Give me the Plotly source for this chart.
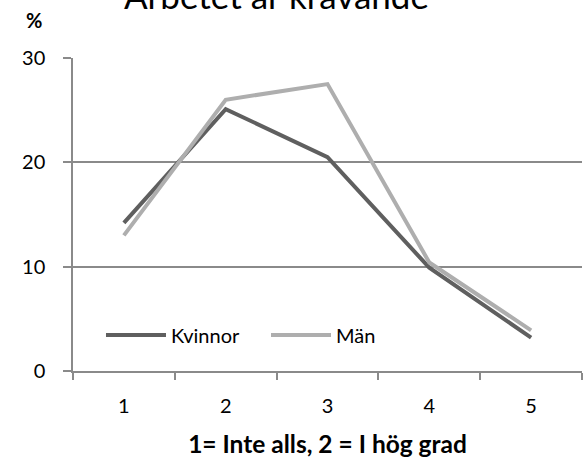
import plotly.graph_objects as go

categories = ["1", "2", "3", "4", "5"]
kvinnor = [14.2, 25.1, 20.5, 9.9, 3.2]
man = [13.0, 26.0, 27.5, 10.4, 3.9]
y_ticks = [0, 10, 20, 30]

FONT = "Lato"
GRID = "#8a8a8a"

fig = go.Figure()
fig.add_trace(go.Scatter(x=categories, y=kvinnor, mode="lines", name="Kvinnor",
                         line=dict(color="#5f5f5f", width=4)))
fig.add_trace(go.Scatter(x=categories, y=man, mode="lines", name="Män",
                         line=dict(color="#aeaeae", width=4)))

fig.update_layout(
    width=583, height=461,
    margin=dict(l=73, r=1, t=58, b=90),
    paper_bgcolor="white", plot_bgcolor="white",
    font=dict(family=FONT, size=20, color="#000000"),
    showlegend=True,
    legend=dict(orientation="h", x=0.055, y=0.115, xanchor="left", yanchor="middle",
                bgcolor="rgba(0,0,0,0)", font=dict(size=20, family=FONT),
                itemwidth=60, entrywidth=90, entrywidthmode="pixels"),
    annotations=[
        dict(text="Arbetet är krävande", xref="paper", yref="paper", x=0.40, y=1.20,
             xanchor="center", yanchor="middle", showarrow=False,
             font=dict(size=35, family=FONT, color="#000000")),
        dict(text="<b>%</b>", xref="paper", yref="paper", x=-0.077, y=1.121,
             xanchor="center", yanchor="middle", showarrow=False,
             font=dict(size=20, family=FONT, color="#000000")),
    ],
)
fig.update_xaxes(type="category", range=[-0.5, 4.5], tickson="boundaries", ticks="outside",
                 ticklen=7, tickcolor=GRID, tickwidth=1.5, showline=True, linecolor=GRID,
                 linewidth=1.5, showgrid=False, tickfont=dict(size=20, family=FONT),
                 ticklabelstandoff=16,
                 title=dict(text="<b>1= Inte alls, 2 = I hög grad</b>",
                            font=dict(size=24.5, family=FONT), standoff=20))
fig.update_yaxes(range=[0, 30], tickvals=y_ticks, ticks="outside", ticklen=8,
                 tickcolor=GRID, tickwidth=1.5, showline=True, linecolor=GRID, linewidth=1.5,
                 showgrid=True, gridcolor=GRID, gridwidth=1.5, zeroline=False,
                 tickfont=dict(size=20, family=FONT), ticklabelstandoff=14)

fig.write_html("out.html", config={"displayModeBar": False},
               post_script="document.body.style.margin='0';")
